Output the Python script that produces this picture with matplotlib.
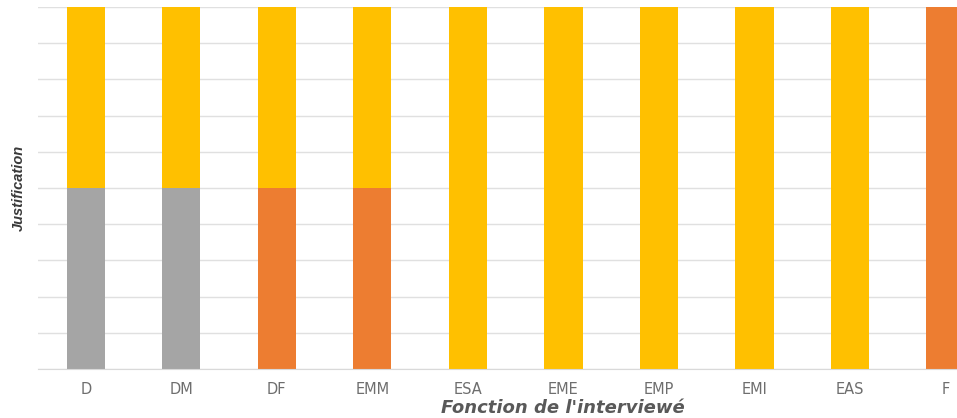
import numpy as np
import matplotlib
matplotlib.use("Agg")
import matplotlib.pyplot as plt

# Data (percent share per category)
categories = ['D', 'DM', 'DF', 'EMM', 'ESA', 'EME', 'EMP', 'EMI', 'EAS', 'F']
gray_vals = [50, 50, 0, 0, 0, 0, 0, 0, 0, 0]
orange_vals = [0, 0, 50, 50, 0, 0, 0, 0, 0, 100]
gold_vals = [50, 50, 50, 50, 100, 100, 100, 100, 100, 0]

fig = plt.figure(figsize=(9.57, 4.18), dpi=100)
ax = fig.add_axes([38/957, 49/418, 1 - 38/957, (369 - 7)/418])

x = np.arange(len(categories))
w = 0.4
ax.bar(x, gray_vals, w, color='#A5A5A5', zorder=2)
ax.bar(x, orange_vals, w, bottom=gray_vals, color='#ED7D31', zorder=2)
bottom2 = np.array(gray_vals) + np.array(orange_vals)
ax.bar(x, gold_vals, w, bottom=bottom2, color='#FFC000', zorder=2)

ax.set_ylim(0, 100)
ax.set_xlim(-0.5, 9.12)
ax.set_yticks(np.arange(0, 101, 10))
ax.set_yticklabels([])
ax.tick_params(axis='y', length=0)
ax.tick_params(axis='x', length=0, pad=9, labelsize=10.5, labelcolor='#6E6E6E')
ax.set_xticks(x)
ax.set_xticklabels(categories)
ax.grid(axis='y', color='#E0E0E0', linewidth=1, zorder=0)
for s in ['top', 'right', 'left']:
    ax.spines[s].set_visible(False)
ax.spines['bottom'].set_color('#D9D9D9')

fig.text(19/957, 1 - 188/418, 'Justification', rotation=90, ha='center', va='center',
         fontsize=10.5, style='italic', fontweight='bold', color='#3A3A3A',
         family='Liberation Sans')
fig.text(563/957, 1 - 408/418, "Fonction de l'interviewé", ha='center', va='center',
         fontsize=13, style='italic', fontweight='bold', color='#595959')

fig.savefig('out.png', dpi=100)
